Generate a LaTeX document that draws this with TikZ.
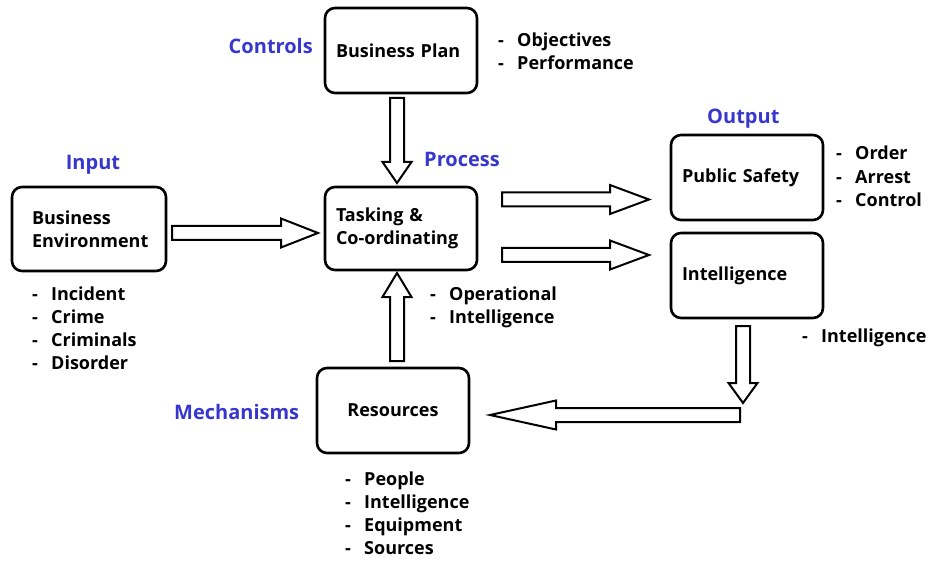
\documentclass[tikz,border=0pt]{standalone}
\usepackage{fontspec}
\setmainfont{Open Sans}
\usetikzlibrary{calc}
\definecolor{lblblue}{RGB}{55,55,205}
\newcommand\itemdash{\makebox[19pt][l]{-}}
\newcommand\blockarrow[3]{%
  \coordinate (bah) at ($(#2)!#3!(#1)$);
  \draw[blockarrowline] ($(#1)!7pt!90:(#2)$) -- ($(bah)!7pt!90:(#2)$) -- ($(bah)!14.5pt!90:(#2)$) -- (#2) -- ($(bah)!14.5pt!-90:(#2)$) -- ($(bah)!7pt!-90:(#2)$) -- ($(#1)!7pt!-90:(#2)$) -- cycle;}
\begin{document}
\begin{tikzpicture}[x=1pt,y=1pt,
  every node/.style={font=\fontsize{18pt}{23pt}\selectfont\bfseries},
  box/.style={draw, line width=2.6pt, rounded corners=10pt, minimum width=152pt,
    minimum height=85pt, text width=130pt, inner xsep=11pt, inner ysep=0pt, outer sep=0pt, align=left},
  txt/.style={inner sep=0pt, anchor=base west},
  blue lbl/.style={inner sep=0pt, text=lblblue, font=\fontsize{20pt}{24pt}\selectfont\bfseries},
  blockarrowline/.style={draw, line width=2pt, line join=miter, fill=white}]
\useasboundingbox (0,0) rectangle (933,560);
% boxes
\node[box] (plan) at (401,509.5) {Business Plan};
\node[box, minimum width=154pt, minimum height=84pt, text width=114pt, inner xsep=20pt] (env) at (89,331) {Business\\Environment};
\node[box, minimum height=83pt] (task) at (401,331.5) {Tasking \&\\Co-ordinating};
\node[box] (safety) at (747,382.5) {Public Safety};
\node[box] (intel) at (747,284.5) {Intelligence};
\node[box, align=center] (res) at (393,149.5) {Resources};
% category labels
\node[blue lbl, anchor=base east] (controls) at (313,506.5) {Controls};
\node[blue lbl, anchor=base] (input) at (93,390.5) {Input};
\node[blue lbl, anchor=base west] (process) at (424,393.5) {Process};
\node[blue lbl, anchor=base west] (output) at (707,436.5) {Output};
\node[blue lbl, anchor=base west] (mech) at (174,140.5) {Mechanisms};
% item lists
\node[txt] (obj) at (498,513.5) {\itemdash Objectives};
\node[txt] (perf) at (498,490.5) {\itemdash Performance};
\node[txt] (order) at (836,400.5) {\itemdash Order};
\node[txt] (arrest) at (836,376.5) {\itemdash Arrest};
\node[txt] (control) at (836,353.5) {\itemdash Control};
\node[txt] (intout) at (802,217.5) {\itemdash Intelligence};
\node[txt] (oper) at (430,259.5) {\itemdash Operational};
\node[txt] (operint) at (430,236.5) {\itemdash Intelligence};
\node[txt] (incident) at (32,259.5) {\itemdash Incident};
\node[txt] (crime) at (32,236.5) {\itemdash Crime};
\node[txt] (criminals) at (32,213.5) {\itemdash Criminals};
\node[txt] (disorder) at (32,190.5) {\itemdash Disorder};
\node[txt] (people) at (345,74.5) {\itemdash People};
\node[txt] (resint) at (345,51.5) {\itemdash Intelligence};
\node[txt] (equip) at (345,28.5) {\itemdash Equipment};
\node[txt] (sources) at (345,5.5) {\itemdash Sources};
% arrow end points
\coordinate (a1s) at ($(plan.south)+(-4,-5)$);
\coordinate (a1e) at ($(task.north)+(-4,4)$);
\coordinate (a2s) at ($(env.east)+(6,-4)$);
\coordinate (a2e) at ($(task.west)+(-7,-4.5)$);
\coordinate (a3s) at ($(task.east)+(25,29)$);
\coordinate (a3e) at ($(safety.west)+(-22,-22)$);
\coordinate (a4s) at ($(task.east)+(25,-26.5)$);
\coordinate (a4e) at ($(intel.west)+(-22,20.5)$);
\coordinate (a5s) at ($(intel.south)+(-4,-8)$);
\coordinate (a5e) at ($(intel.south)+(-4,-85)$);
\coordinate (a6s) at ($(intel.south)+(-7,-97)$);
\coordinate (a6e) at ($(res.east)+(21,-4.5)$);
\coordinate (a7s) at ($(res.north)+(4,7)$);
\coordinate (a7e) at ($(task.south)+(-4,-3)$);
% block arrows
\blockarrow{a1s}{a1e}{21pt}
\blockarrow{a2s}{a2e}{37pt}
\blockarrow{a3s}{a3e}{39pt}
\blockarrow{a4s}{a4e}{39pt}
\blockarrow{a5s}{a5e}{20pt}
\blockarrow{a6s}{a6e}{66pt}
\blockarrow{a7s}{a7e}{24pt}
\end{tikzpicture}
\end{document}
